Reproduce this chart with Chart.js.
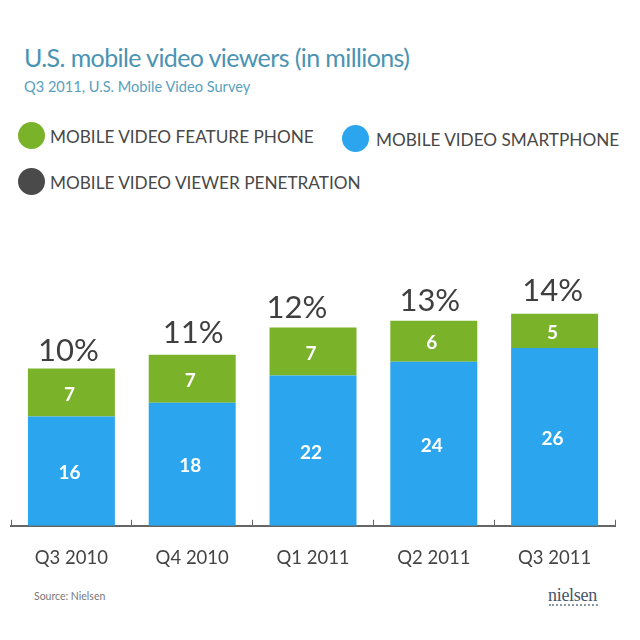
<!DOCTYPE html>
<html>
<head>
<meta charset="utf-8">
<script src="https://cdn.jsdelivr.net/npm/chart.js@4"></script>
<style>
  html, body { margin: 0; padding: 0; background: #fff; }
  #wrap { position: relative; width: 640px; height: 640px; overflow: hidden; font-family: Lato, "Open Sans", sans-serif; }
  #wrap div { position: absolute; white-space: nowrap; }
  canvas { position: absolute; left: 0; top: 0; }
  .dot { width: 27px; height: 27px; border-radius: 50%; }
  .leg { font-size: 17.2px; color: #484848; }
</style>
</head>
<body>
<div id="wrap">
  <div style="left:24px;top:42px;font-size:25px;letter-spacing:-0.6px;color:#4b93b3">U.S. mobile video viewers (in millions)</div>
  <div style="left:24px;top:78px;font-size:14.6px;color:#5a9fbd">Q3 2011, U.S. Mobile Video Survey</div>
  <div class="dot" style="left:18px;top:122px;background:#7ab32a"></div>
  <div class="leg" style="left:50px;top:126px">MOBILE VIDEO FEATURE PHONE</div>
  <div class="dot" style="left:342px;top:125px;background:#2ba6ee"></div>
  <div class="leg" style="left:376px;top:129px">MOBILE VIDEO SMARTPHONE</div>
  <div class="dot" style="left:18px;top:168px;background:#4a4a4a"></div>
  <div class="leg" style="left:50px;top:172px">MOBILE VIDEO VIEWER PENETRATION</div>
  <div style="left:34px;top:590px;font-size:10.5px;color:#777">Source: Nielsen</div>
  <div style="left:548px;top:585px;font-size:18px;letter-spacing:-0.3px;color:#44566a;font-family:'Liberation Serif',serif">nielsen</div>
  <div style="left:549px;top:604px;width:49px;border-top:2px dotted #8a98a5"></div>
  <canvas id="chart" width="640" height="640"></canvas>
</div>
<script>
const quarters = ["Q3 2010", "Q4 2010", "Q1 2011", "Q2 2011", "Q3 2011"];
const smartphone = [16, 18, 22, 24, 26];
const featurePhone = [7, 7, 7, 6, 5];
const penetration = ["10%", "11%", "12%", "13%", "14%"];

// the percent labels are not centred over the bars in the original
const penetrationNudgeX = [-3, 1, -16, -4, -2];
const penetrationGap = [18, 22, 20, 20, 23];

// penetration labels sit on top of each stack, values go in the middle of the segments
const barLabels = {
  id: "barLabels",
  afterDatasetsDraw(chart) {
    const ctx = chart.ctx;
    ctx.save();
    ctx.textAlign = "center";
    ctx.textBaseline = "middle";
    chart.data.datasets.forEach((ds, d) => {
      chart.getDatasetMeta(d).data.forEach((bar, i) => {
        const mid = (bar.y + bar.base) / 2;
        ctx.fillStyle = "#fff";
        ctx.font = "bold 19px Lato";
        ctx.fillText(ds.data[i], bar.x - 2, mid + 2);
        if (d === 1) {
          ctx.fillStyle = "#3f3f3f";
          ctx.font = "31px Lato";
          ctx.fillText(penetration[i], bar.x + penetrationNudgeX[i], bar.y - penetrationGap[i]);
        }
      });
    });
    ctx.restore();
  }
};

new Chart(document.getElementById("chart"), {
  type: "bar",
  data: {
    labels: quarters,
    datasets: [
      { label: "Smartphone", data: smartphone, backgroundColor: "#2ba6ee", stack: "a", categoryPercentage: 0.72, barPercentage: 1 },
      { label: "Feature phone", data: featurePhone, backgroundColor: "#7ab32a", stack: "a", categoryPercentage: 0.72, barPercentage: 1 }
    ]
  },
  options: {
    responsive: false,
    animation: false,
    layout: { padding: { left: 11, right: 25, top: 307, bottom: 44 } },
    plugins: { legend: { display: false }, tooltip: { enabled: false } },
    scales: {
      x: {
        stacked: true,
        grid: { display: true, drawOnChartArea: false, drawTicks: true, tickLength: -6, color: "#666" },
        border: { color: "#666", width: 2 },
        ticks: { color: "#444", font: { family: "Lato", size: 18.5 }, padding: 27 }
      },
      y: {
        stacked: true,
        display: false,
        min: 0,
        max: 32
      }
    }
  },
  plugins: [barLabels]
});
</script>
</body>
</html>
